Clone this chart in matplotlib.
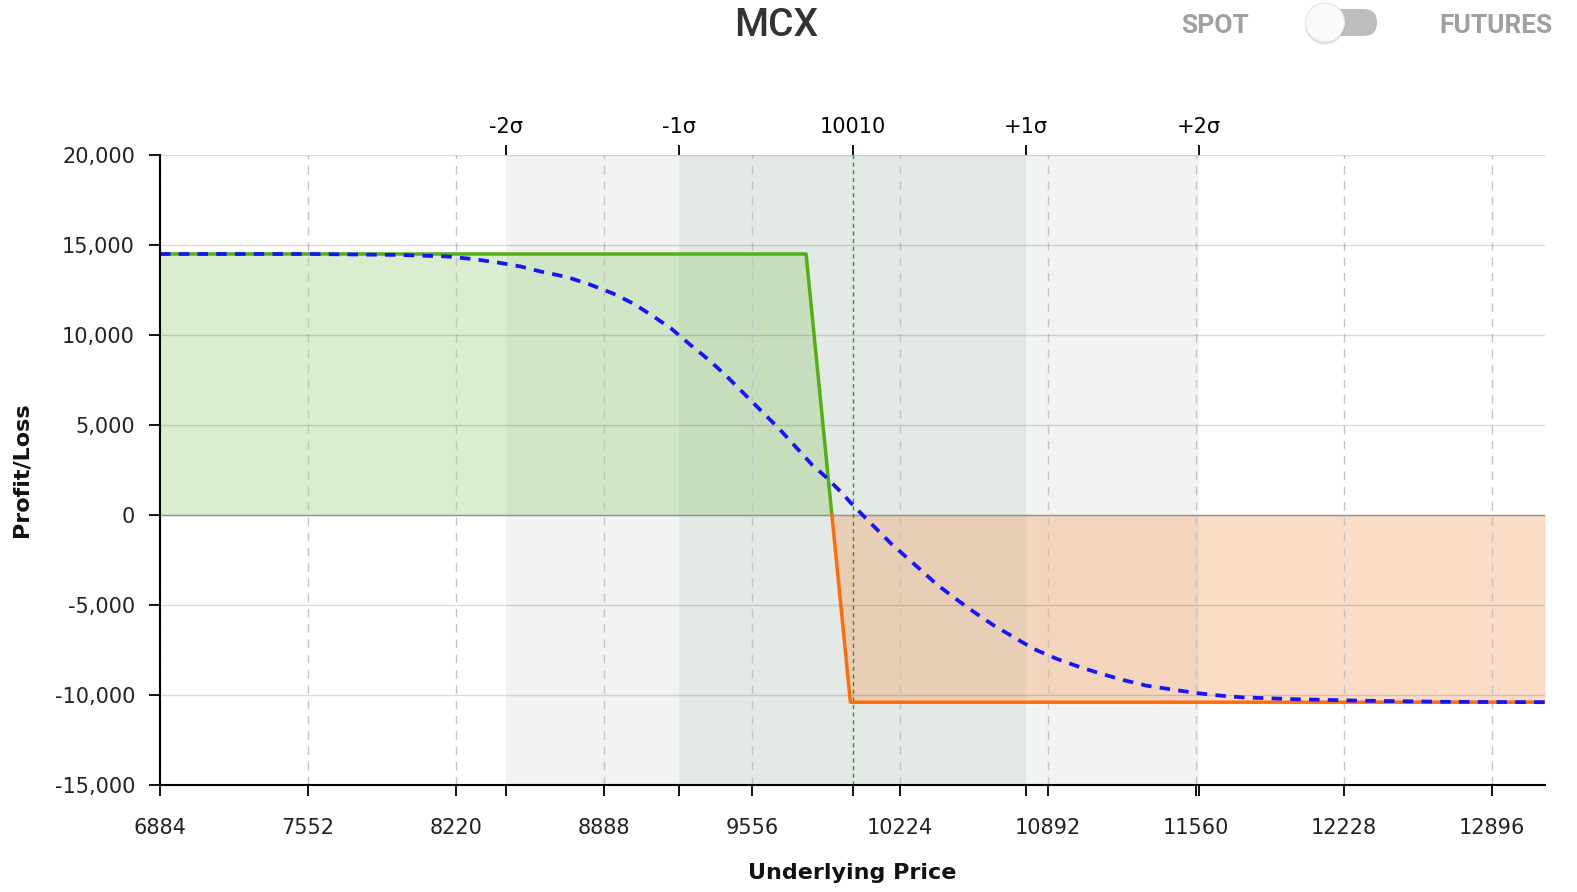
import numpy as np
import matplotlib
matplotlib.use("Agg")
import matplotlib.pyplot as plt
from matplotlib.ticker import FuncFormatter
from matplotlib.patches import FancyBboxPatch, Circle

# data
x_ticks = [6884, 7552, 8220, 8888, 9556, 10224, 10892, 11560, 12228, 12896]
y_ticks = [-15000, -10000, -5000, 0, 5000, 10000, 15000, 20000]
spot = 10010
sigma_prices = [8446, 9228, 10010, 10792, 11574]
sigma_labels = ['-2σ', '-1σ', '10010', '+1σ', '+2σ']
x_min, x_max = 6884, 13135

# expiry payoff (two strikes)
payoff_price = [6884, 9800, 10000, 13135]
payoff_pnl = [14500, 14500, -10400, -10400]

# dashed curve (P/L today)
today_price = [6884, 7552, 7958, 8183, 8302, 8407, 8511, 8601, 8721, 8825,
               8930, 9020, 9109, 9191, 9274, 9356, 9438, 9513, 9602, 9677,
               9752, 9827, 9894, 9961, 10015, 10067, 10127, 10187, 10246,
               10314, 10388, 10478, 10560, 10649, 10739, 10829, 10933, 11038,
               11135, 11232, 11336, 11455, 11560, 11665, 11769, 12000, 12277,
               12700, 13135]
today_pnl = [14500, 14500, 14450, 14360, 14210, 14030, 13810, 13530, 13220,
             12800, 12300, 11750, 11050, 10360, 9490, 8670, 7750, 6830, 5730,
             4810, 3800, 2790, 2060, 1230, 500, -150, -890, -1630, -2270,
             -3010, -3840, -4680, -5410, -6150, -6800, -7450, -8000, -8460,
             -8830, -9170, -9480, -9700, -9890, -10030, -10130, -10230,
             -10310, -10380, -10400]

# breakeven where payoff crosses zero
breakeven = np.interp(0, payoff_pnl[::-1], payoff_price[::-1])

fig = plt.figure(figsize=(15.77, 8.92), dpi=100)
ax = fig.add_axes([160 / 1577, 107 / 892, 1385 / 1577, 630 / 892])

# sigma bands
ax.axvspan(sigma_prices[0], sigma_prices[4], color='#f2f4f3', zorder=0, lw=0)
ax.axvspan(sigma_prices[1], sigma_prices[3], color='#e3e9e5', zorder=0, lw=0)

# profit / loss fills
px = np.array(payoff_price, dtype=float)
py = np.array(payoff_pnl, dtype=float)
ax.fill_between(px, py, 0, where=py >= 0, interpolate=True,
                color='#8cc86a', alpha=0.32, lw=0, zorder=1)
ax.fill_between(px, py, 0, where=py <= 0, interpolate=True,
                color='#f5a36a', alpha=0.38, lw=0, zorder=1)

# grid
ax.set_axisbelow(False)
ax.yaxis.grid(True, color='black', alpha=0.14, lw=1, ls='-')
ax.xaxis.grid(True, color='#c4c4c4', lw=1, ls=(0, (6, 5)))
ax.axhline(0, color='#8a998a', lw=1, zorder=2.6)
ax.axvline(spot, color='#2f8f2f', lw=1, ls=(0, (3, 2.5)), zorder=2.7)

# payoff lines
ax.plot([payoff_price[0], payoff_price[1], breakeven],
        [payoff_pnl[0], payoff_pnl[1], 0],
        color='#52b012', lw=2.5, zorder=4, solid_joinstyle='round')
ax.plot([breakeven, payoff_price[2], payoff_price[3]],
        [0, payoff_pnl[2], payoff_pnl[3]],
        color='#ff6d0a', lw=2.5, zorder=4, solid_joinstyle='round')
ax.plot(today_price, today_pnl, color='#1414ff', lw=2.7,
        ls=(0, (2.8, 2.2)), zorder=5)

ax.set_xlim(x_min, x_max)
ax.set_ylim(-15000, 20000)
ax.set_xticks(x_ticks)
ax.set_xticks(sigma_prices, minor=True)
ax.set_yticks(y_ticks)
ax.yaxis.set_major_formatter(FuncFormatter(lambda v, p: f"{v:,.0f}"))

for s in ['top', 'right']:
    ax.spines[s].set_visible(False)
for s in ['left', 'bottom']:
    ax.spines[s].set_linewidth(1.5)
    ax.spines[s].set_color('black')
    ax.spines[s].set_zorder(6)

ax.tick_params(axis='x', which='major', length=8, width=1.3,
               labelsize=15, pad=16, colors='black')
ax.tick_params(axis='x', which='minor', length=8, width=1.3)
ax.tick_params(axis='y', length=8, width=1.3, labelsize=15, pad=10)
for lab in ax.get_xticklabels() + ax.get_yticklabels():
    lab.set_color('#222222')

# sigma axis on top
top = ax.secondary_xaxis('top')
top.set_xticks(sigma_prices)
top.set_xticklabels(sigma_labels)
top.tick_params(length=7, width=1.3, labelsize=15, pad=6)
top.spines['top'].set_visible(False)

ax.set_xlabel('Underlying Price', fontsize=16, fontweight='bold',
              labelpad=18, color='#111111')
ax.set_ylabel('Profit/Loss', fontsize=16, fontweight='bold',
              labelpad=17, color='#111111')

# header: title and spot/futures toggle
fig.text(776 / 1577, 1 - 26 / 892, 'MCX', family='Roboto', fontsize=28,
         fontweight='medium', color='#333333', ha='center', va='center')
fig.text(1215 / 1577, 1 - 26 / 892, 'SPOT', family='Roboto', fontsize=19,
         fontweight='bold', color='#a0a0a0', ha='center', va='center')
fig.text(1496 / 1577, 1 - 26 / 892, 'FUTURES', family='Roboto', fontsize=19,
         fontweight='bold', color='#a0a0a0', ha='center', va='center')

ui = fig.add_axes([0, 0, 1, 1], zorder=10)
ui.set_xlim(0, 1577)
ui.set_ylim(892, 0)
ui.axis('off')
ui.patch.set_alpha(0)
ui.add_patch(FancyBboxPatch((1311, 9), 66, 27,
                            boxstyle='round,pad=0,rounding_size=13.5',
                            fc='#bdbdbd', ec='none'))
ui.add_patch(Circle((1325, 24.5), 20, fc='#000000', alpha=0.12, ec='none'))
ui.add_patch(Circle((1325, 22.5), 19.5, fc='#fafafa', ec='#e6e6e6', lw=0.8))

fig.savefig('out.png', dpi=100)
